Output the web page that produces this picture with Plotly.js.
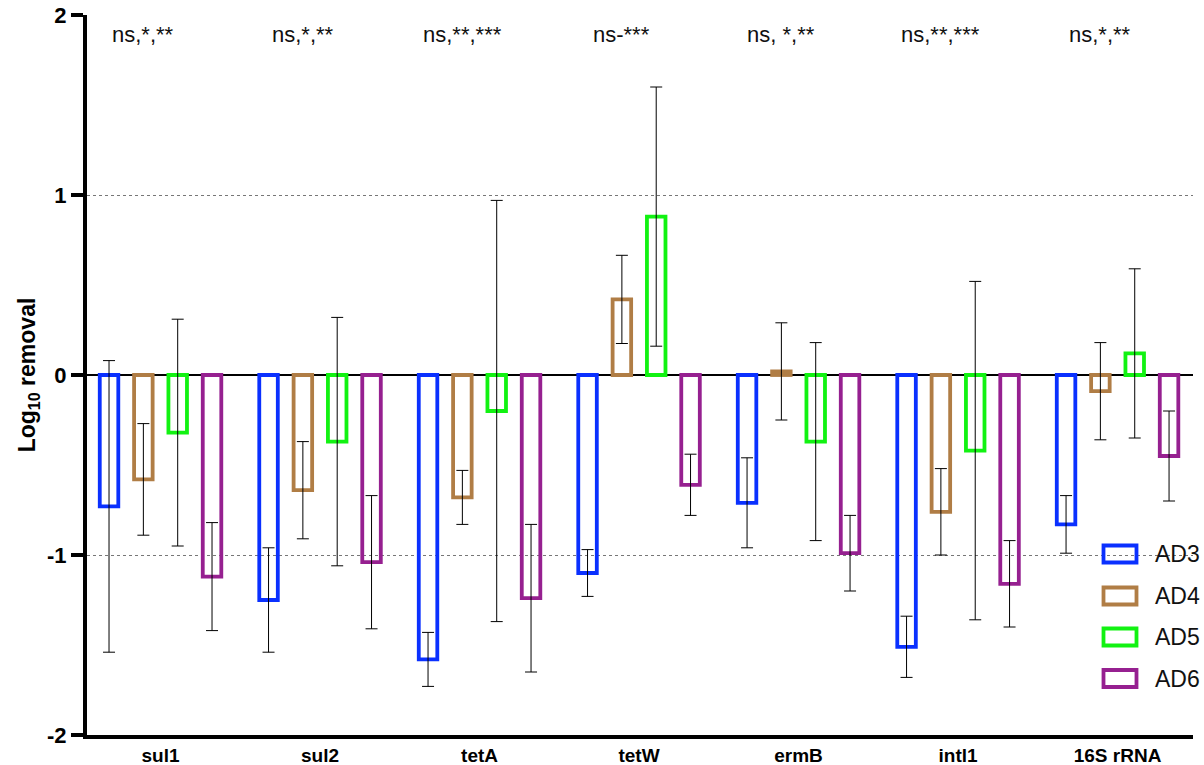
<!DOCTYPE html>
<html>
<head>
<meta charset="utf-8">
<script src="https://cdn.plot.ly/plotly-3.0.1.min.js"></script>
<style>html,body{margin:0;padding:0;background:#fff;}#chart{width:1204px;height:765px;}</style>
</head>
<body>
<div id="chart"></div>
<script>
const genes = ['sul1','sul2','tetA','tetW','ermB','intl1','16S rRNA'];
const seriesNames = ['AD3','AD4','AD5','AD6'];
const ad3 = [-0.73,-1.25,-1.58,-1.10,-0.71,-1.51,-0.83];
const ad3Err = [0.81,0.29,0.15,0.13,0.25,0.17,0.16];
const ad4 = [-0.58,-0.64,-0.68,0.42,0.02,-0.76,-0.09];
const ad4Err = [0.31,0.27,0.15,0.245,0.27,0.24,0.27];
const ad5 = [-0.32,-0.37,-0.20,0.88,-0.37,-0.42,0.12];
const ad5Err = [0.63,0.69,1.17,0.72,0.55,0.94,0.47];
const ad6 = [-1.12,-1.04,-1.24,-0.61,-0.99,-1.16,-0.45];
const ad6Err = [0.30,0.37,0.41,0.17,0.21,0.24,0.25];
const sigLabels = ['ns,*,**','ns,*,**','ns,**,***','ns-***','ns, *,**','ns,**,***','ns,*,**'];
const yTicks = [-2,-1,0,1,2];

const colors = ['#0a30ff','#b07d45','#12f212','#962090'];
const values = [ad3, ad4, ad5, ad6];
const errs = [ad3Err, ad4Err, ad5Err, ad6Err];
const FONT = 'Liberation Sans, Arial, Helvetica, sans-serif';

const xIdx = genes.map((g,i)=>i);
const traces = seriesNames.map((name,k)=>({
  type:'bar', name:name, x:xIdx, y:values[k],
  marker:{color:'rgba(255,255,255,0)', line:{color:colors[k], width:3.8}},
  error_y:{type:'data', array:errs[k], visible:true, color:'#000', thickness:1, width:6},
  showlegend:false, hoverinfo:'skip'
}));

// plot area pixel geometry
const W=1204, H=765, L=87, R=11, T=15, B=30;
const pw = W-L-R, ph = H-T-B;
const px2x = p => (p-L)/pw;
const py2y = p => (H-B-p)/ph;

const shapes = [];
const annotations = [];
// significance labels over each group (centred on the 2nd bar)
sigLabels.forEach((s,i)=>{
  annotations.push({x:i-0.108, y:1.89, xref:'x', yref:'y', text:s, showarrow:false,
    xanchor:'center', yanchor:'middle', font:{family:FONT, size:22, color:'#111'}});
});
// custom legend
const legY = [554, 596, 637, 678.5];
seriesNames.forEach((n,k)=>{
  shapes.push({type:'rect', xref:'paper', yref:'paper', layer:'above',
    x0:px2x(1103.5), x1:px2x(1136.5), y0:py2y(legY[k]-8.5), y1:py2y(legY[k]+8.5),
    line:{color:colors[k], width:3.8}, fillcolor:'rgba(0,0,0,0)'});
  annotations.push({xref:'paper', yref:'paper', x:px2x(1153), y:py2y(legY[k]), text:n,
    showarrow:false, xanchor:'left', yanchor:'middle', font:{family:FONT, size:23, color:'#111'}});
});

const layout = {
  width:W, height:H,
  margin:{l:L, r:R, t:T, b:B, pad:0},
  paper_bgcolor:'#fff', plot_bgcolor:'#fff',
  barmode:'group', bargap:0.139, bargroupgap:0.46,
  font:{family:FONT, color:'#000'},
  xaxis:{
    range:[-0.461, 6.473], tickmode:'array', tickvals:xIdx, ticktext:genes.map(g=>'<b>'+g+'</b>'),
    showline:true, linecolor:'#000', linewidth:4, ticks:'', showgrid:false, zeroline:false,
    tickfont:{family:FONT, size:19, color:'#000'}, automargin:false, fixedrange:true
  },
  yaxis:{
    range:[-2, 2], tickmode:'array', tickvals:yTicks, ticktext:yTicks.map(v=>'<b>'+v+'</b>'),
    showline:true, linecolor:'#000', linewidth:4, ticks:'outside', ticklen:12, tickwidth:4, tickcolor:'#000',
    showgrid:true, gridcolor:'#777', griddash:'dot', gridwidth:1,
    zeroline:true, zerolinecolor:'#000', zerolinewidth:2.5,
    tickfont:{family:FONT, size:22, color:'#000'},
    title:{text:'<b>Log<sub>10</sub> removal</b>', font:{family:FONT, size:23, color:'#000'}, standoff:6},
    automargin:false, fixedrange:true
  },
  shapes:shapes, annotations:annotations, showlegend:false
};

Plotly.newPlot('chart', traces, layout, {displayModeBar:false, staticPlot:true});
</script>
</body>
</html>
